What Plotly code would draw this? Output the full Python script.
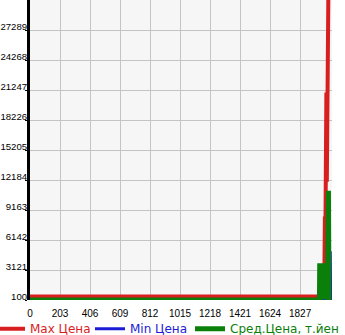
import plotly.graph_objects as go

# ---- data ----
x_ticks = [0, 203, 406, 609, 812, 1015, 1218, 1421, 1624, 1827]
y_ticks = [100, 3121, 6142, 9163, 12184, 15205, 18226, 21247, 24268, 27289]

max_x = [0, 1990, 1995, 1998, 2005, 2008, 2026, 2030]
max_y = [450, 450, 8500, 6000, 21000, 12000, 45000, 45000]

min_x = [0, 2026, 2031, 2034]
min_y = [100, 100, 5000, 100]

avg_x = [0, 1958, 1960, 1964, 1968, 1972, 1976, 1980, 1984, 1988, 1992, 1996,
         2000, 2004, 2008, 2012, 2019, 2022]
avg_y = [100, 100, 3800, 150, 3800, 150, 3800, 150, 3800, 150, 3800, 150,
         3800, 150, 3800, 150, 11100, 100]

names = ["Max Цена", "Min Цена", "Сред.Цена, т.йен"]
colors = ["#d81e1e", "#1c1cd6", "#0a800a"]

fig = go.Figure()
series = [(max_x, max_y, names[0], colors[0], 4, "legend", 55),
          (min_x, min_y, names[1], colors[1], 3, "legend", 55),
          (avg_x, avg_y, names[2], colors[2], 5, "legend2", None)]
for xs, ys, nm, col, w, lg, lw in series:
    fig.add_trace(go.Scatter(
        x=xs, y=ys, mode="lines",
        line=dict(color=col, width=w),
        name=f"<span style='color:{col}'>{nm}</span>",
        legend=lg, legendwidth=lw,
    ))

tick_font = "Liberation Sans, Arial, sans-serif"
leg_font = "DejaVu Sans, Verdana, sans-serif"
fig.update_layout(
    width=345, height=335,
    margin=dict(l=30, r=13, t=0, b=35, autoexpand=False),
    paper_bgcolor="white",
    plot_bgcolor="#f6f6f6",
    font=dict(family=tick_font, size=10, color="black"),
    showlegend=True,
    legend=dict(orientation="h", x=-40 / 302, xanchor="left", y=-0.096,
                yanchor="middle", font=dict(size=12, family=leg_font),
                itemwidth=30, bgcolor="rgba(0,0,0,0)"),
    legend2=dict(orientation="h", x=160 / 302, xanchor="left", y=-0.096,
                 yanchor="middle", font=dict(size=12, family=leg_font),
                 itemwidth=30, bgcolor="rgba(0,0,0,0)"),
    xaxis=dict(range=[0, 2043], tickvals=x_ticks, ticktext=[str(v) for v in x_ticks],
               showgrid=True, gridcolor="#c4c4c4", gridwidth=1, zeroline=False,
               showline=False, ticks="", tickfont=dict(size=10),
               ticklabelstandoff=6),
    yaxis=dict(range=[100, 30310], tickvals=y_ticks, ticktext=[str(v) for v in y_ticks],
               showgrid=True, gridcolor="#c4c4c4", gridwidth=1, zeroline=False,
               showline=True, linecolor="black", linewidth=3,
               ticks="",
               minor=dict(tickvals=y_ticks, ticks="outside", ticklen=2,
                          tickcolor="black", showgrid=False),
               tickfont=dict(size=9.6), ticklabelshift=-3, ticklabelstandoff=-2),
)

fig.write_html("out.html")
